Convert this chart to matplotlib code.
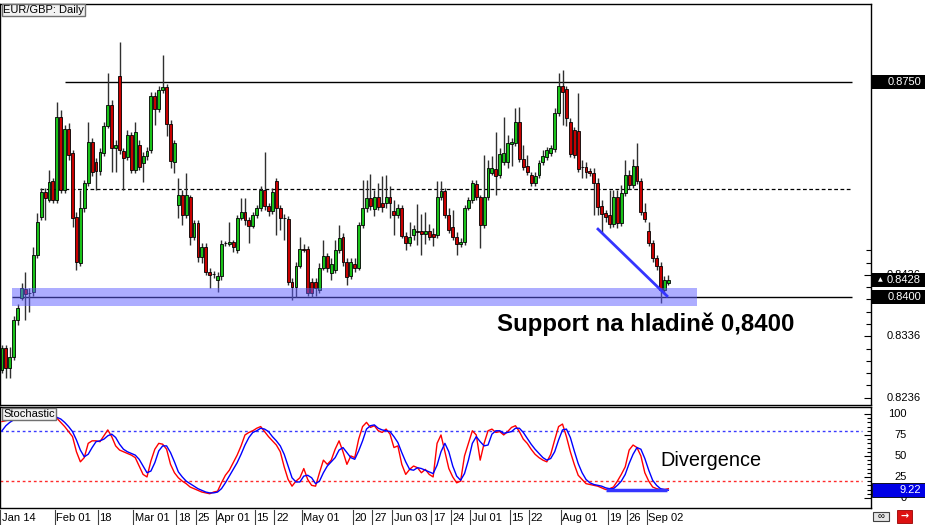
import numpy as np
import matplotlib
matplotlib.use("Agg")
from matplotlib import transforms
from matplotlib.backends.backend_agg import FigureCanvasAgg
from matplotlib.figure import Figure
from matplotlib.patches import Rectangle

matplotlib.rcParams["font.family"] = ["Liberation Sans", "DejaVu Sans"]

# daily EUR/GBP candles (one entry per bar)
opens = [
    .8281, .8317, .8284, .8302, .8363, .8398, .8413, .8406, .8408, .8468,
    .8530, .8571, .8558, .8589, .8558, .8693, .8574, .8673, .8634, .8530,
    .8455, .8545, .8586, .8652, .8620, .8605, .8634, .8678, .8713, .8643,
    .8760, .8638, .8628, .8664, .8607, .8647, .8618, .8630, .8639, .8727,
    .8706, .8737, .8742, .8682, .8620, .8550, .8566, .8533, .8563, .8498,
    .8520, .8465, .8481, .8441, .8437, .8428, .8434, .8488, .8486, .8490,
    .8477, .8529, .8538, .8525, .8516, .8533, .8545, .8574, .8548, .8540,
    .8589, .8545, .8529, .8527, .8424, .8416, .8450, .8478, .8478, .8424,
    .8424, .8411, .8447, .8467, .8439, .8444, .8477, .8498, .8457, .8434,
    .8454, .8447, .8517, .8545, .8561, .8543, .8563, .8553, .8553, .8563,
    .8540, .8533, .8545, .8499, .8488, .8501, .8507, .8507, .8503, .8507,
    .8503, .8501, .8563, .8573, .8533, .8514, .8498, .8486, .8490, .8545,
    .8558, .8584, .8563, .8517, .8563, .8602, .8608, .8599, .8620, .8620,
    .8649, .8651, .8685, .8625, .8613, .8599, .8586, .8599, .8620, .8628,
    .8634, .8641, .8700, .8743, .8739, .8685, .8672, .8670, .8612, .8612,
    .8605, .8602, .8586, .8548, .8537, .8533, .8519, .8563, .8520, .8569,
    .8599, .8582, .8613, .8589, .8538, .8507, .8488, .8463, .8450, .8411,
    .8423,
]
highs = [
    .8322, .8322, .8319, .8369, .8389, .8423, .8441, .8415, .8481, .8537,
    .8577, .8577, .8607, .8594, .8717, .8704, .8680, .8683, .8639, .8538,
    .8574, .8590, .8685, .8659, .8626, .8643, .8685, .8765, .8721, .8656,
    .8815, .8643, .8672, .8669, .8685, .8656, .8636, .8644, .8734, .8734,
    .8743, .8794, .8747, .8688, .8656, .8594, .8574, .8602, .8566, .8525,
    .8525, .8488, .8488, .8447, .8442, .8441, .8493, .8491, .8522, .8493,
    .8533, .8561, .8561, .8530, .8538, .8550, .8581, .8636, .8553, .8577,
    .8594, .8550, .8535, .8532, .8431, .8457, .8498, .8486, .8483, .8431,
    .8431, .8455, .8493, .8472, .8463, .8493, .8517, .8504, .8463, .8463,
    .8463, .8522, .8590, .8590, .8600, .8574, .8586, .8597, .8599, .8581,
    .8558, .8551, .8550, .8506, .8522, .8517, .8551, .8535, .8538, .8519,
    .8512, .8589, .8589, .8577, .8545, .8542, .8506, .8496, .8550, .8563,
    .8590, .8590, .8566, .8631, .8623, .8630, .8669, .8643, .8693, .8664,
    .8659, .8708, .8709, .8647, .8631, .8603, .8603, .8623, .8639, .8644,
    .8647, .8708, .8765, .8770, .8743, .8691, .8677, .8732, .8623, .8620,
    .8610, .8610, .8594, .8558, .8542, .8574, .8574, .8574, .8582, .8623,
    .8607, .8625, .8651, .8594, .8553, .8522, .8493, .8468, .8457, .8434,
    .8436,
]
lows = [
    .8276, .8268, .8268, .8297, .8354, .8395, .8363, .8376, .8402, .8463,
    .8525, .8525, .8555, .8553, .8553, .8569, .8569, .8623, .8514, .8444,
    .8450, .8538, .8581, .8597, .8574, .8599, .8630, .8675, .8603, .8603,
    .8633, .8574, .8623, .8602, .8602, .8607, .8587, .8623, .8634, .8680,
    .8701, .8732, .8662, .8610, .8602, .8529, .8517, .8529, .8485, .8493,
    .8457, .8455, .8436, .8415, .8431, .8408, .8428, .8483, .8483, .8473,
    .8472, .8525, .8517, .8488, .8512, .8529, .8540, .8542, .8532, .8535,
    .8501, .8509, .8493, .8420, .8395, .8400, .8447, .8473, .8402, .8400,
    .8402, .8406, .8444, .8441, .8428, .8439, .8472, .8450, .8420, .8429,
    .8441, .8444, .8512, .8538, .8542, .8532, .8542, .8538, .8545, .8529,
    .8501, .8529, .8496, .8477, .8483, .8493, .8485, .8468, .8486, .8493,
    .8483, .8496, .8558, .8529, .8504, .8493, .8468, .8481, .8485, .8542,
    .8553, .8558, .8480, .8512, .8558, .8599, .8566, .8594, .8615, .8610,
    .8613, .8646, .8620, .8607, .8599, .8581, .8581, .8594, .8615, .8623,
    .8630, .8636, .8695, .8680, .8678, .8628, .8626, .8603, .8594, .8594,
    .8597, .8533, .8533, .8504, .8522, .8512, .8514, .8512, .8516, .8564,
    .8576, .8577, .8584, .8533, .8522, .8483, .8457, .8444, .8390, .8406,
    .8420,
]
closes = [
    .8317, .8284, .8302, .8363, .8382, .8415, .8405, .8406, .8468, .8522,
    .8571, .8561, .8587, .8558, .8693, .8574, .8673, .8631, .8529, .8457,
    .8545, .8586, .8652, .8603, .8605, .8636, .8678, .8713, .8643, .8647,
    .8639, .8626, .8664, .8607, .8669, .8612, .8630, .8638, .8727, .8706,
    .8737, .8742, .8682, .8621, .8651, .8566, .8533, .8566, .8498, .8520,
    .8465, .8481, .8441, .8436, .8437, .8434, .8486, .8488, .8490, .8481,
    .8529, .8538, .8525, .8516, .8533, .8545, .8574, .8548, .8540, .8571,
    .8545, .8529, .8528, .8424, .8416, .8450, .8478, .8477, .8406, .8406,
    .8415, .8447, .8467, .8447, .8454, .8477, .8496, .8457, .8433, .8457,
    .8447, .8517, .8545, .8561, .8548, .8563, .8547, .8547, .8563, .8553,
    .8533, .8545, .8499, .8488, .8498, .8511, .8506, .8503, .8507, .8498,
    .8498, .8563, .8573, .8533, .8509, .8498, .8486, .8490, .8545, .8558,
    .8586, .8563, .8517, .8563, .8610, .8610, .8597, .8633, .8634, .8651,
    .8652, .8685, .8625, .8612, .8603, .8586, .8597, .8618, .8630, .8639,
    .8643, .8700, .8743, .8734, .8691, .8633, .8631, .8608, .8611, .8603,
    .8602, .8586, .8547, .8535, .8530, .8519, .8563, .8520, .8569, .8599,
    .8582, .8613, .8589, .8538, .8527, .8488, .8463, .8450, .8411, .8428,
    .8428,
]

# stochastic oscillator: fast (red) and slow (blue) lines
stoch_fast = [
    91, 92, 93, 95, 97, 97, 96, 95, 95, 96,
    97, 97, 97, 96, 95, 90, 85, 79, 73, 55,
    43, 48, 65, 68, 68, 67, 74, 81, 73, 62,
    57, 55, 53, 51, 48, 38, 28, 25, 44, 58,
    65, 64, 58, 40, 30, 24, 20, 17, 13, 11,
    9, 7, 6, 5, 7, 8, 18, 27, 33, 42,
    51, 62, 75, 78, 80, 83, 85, 79, 73, 68,
    63, 55, 37, 22, 14, 20, 24, 35, 22, 15,
    14, 30, 45, 40, 45, 58, 68, 55, 40, 50,
    48, 70, 85, 90, 84, 86, 80, 78, 82, 76,
    60, 62, 40, 28, 34, 38, 36, 30, 34, 28,
    25, 65, 75, 55, 35, 25, 18, 20, 50, 65,
    80, 75, 45, 65, 80, 82, 78, 79, 75, 79,
    84, 86, 79, 70, 65, 58, 52, 48, 45, 43,
    52, 69, 85, 88, 73, 55, 40, 27, 22, 17,
    16, 15, 14, 12, 10, 11, 13, 20, 28, 37,
    57, 63, 60, 50, 30, 20, 13, 11, 10, 10,
    11,
]
stoch_slow = [
    80, 86, 90, 93, 95, 96, 97, 96, 95, 95,
    96, 97, 97, 97, 96, 94, 90, 85, 79, 69,
    57, 49, 52, 60, 67, 68, 70, 74, 76, 72,
    64, 58, 55, 53, 51, 46, 38, 30, 32, 42,
    56, 62, 62, 54, 43, 31, 25, 20, 17, 14,
    11, 9, 7, 6, 6, 7, 11, 18, 26, 34,
    42, 52, 63, 72, 78, 80, 83, 82, 79, 73,
    68, 62, 52, 38, 24, 19, 19, 26, 27, 24,
    17, 20, 30, 38, 43, 48, 57, 60, 54, 48,
    46, 56, 68, 82, 86, 87, 83, 81, 80, 79,
    73, 66, 54, 43, 34, 33, 36, 35, 33, 31,
    29, 39, 55, 65, 55, 38, 26, 21, 29, 45,
    65, 73, 67, 62, 63, 76, 80, 80, 77, 78,
    79, 83, 83, 78, 71, 64, 58, 53, 48, 45,
    47, 55, 69, 81, 82, 72, 56, 41, 30, 22,
    18, 16, 15, 14, 12, 11, 11, 15, 20, 28,
    41, 52, 60, 58, 47, 33, 21, 15, 11, 10,
    9.22,
]

# date labels on the time axis and the bar they belong to
date_labels = ["Jan 14", "Feb 01", "18", "Mar 01", "18", "25", "Apr 01", "15", "22",
               "May 01", "20", "27", "Jun 03", "17", "24", "Jul 01", "15", "22",
               "Aug 01", "19", "26", "Sep 02"]
date_bars = [0, 14, 25, 34, 45, 50, 55, 65, 70, 77, 90, 95, 100, 110, 115, 120,
             130, 135, 143, 155, 160, 165]

# drawn levels and annotations
resistance = 0.8750
middle_level = 0.8576
support = 0.8400
support_zone = (0.8385, 0.8415)
last_price = 0.8428
scale_labels = [0.8436, 0.8336, 0.8236]
divergence_bars = [151.8, 169.9]
divergence_prices = [0.8512, 0.8400]
stoch_divergence_bars = [154.1, 169.6]
stoch_divergence_values = [9.5, 9.5]

assert len(opens) == len(highs) == len(lows) == len(closes) == len(stoch_fast) == len(stoch_slow)

GREEN = "#19c219"
RED = "#c80000"
W, H = 925.0, 525.0
RIGHT = 871.0


def px_box(x0, y0, x1, y1):
    return [x0 / W, 1 - y1 / H, (x1 - x0) / W, (y1 - y0) / H]


figure = Figure(figsize=(9.25, 5.25), dpi=100)
FigureCanvasAgg(figure)
figure.patch.set_facecolor("white")

main = figure.add_axes(px_box(0, 4, RIGHT, 405))
stoch = figure.add_axes(px_box(0, 407, RIGHT, 508))

x_left, x_right = -0.5, 221.7
for axis in (main, stoch):
    axis.set_xlim(x_left, x_right)
    axis.tick_params(axis="x", bottom=False, labelbottom=False)
    for spine in axis.spines.values():
        spine.set_color("black")
        spine.set_linewidth(1.0)

main.set_ylim(0.8224, 0.8877)
stoch.set_ylim(-12, 108.3)

# candles
bars = np.arange(len(closes))
o = np.array(opens)
h = np.array(highs)
l = np.array(lows)
c = np.array(closes)
rising = c >= o
body_low = np.minimum(o, c)
body_height = np.maximum(np.abs(c - o), 0.00003)
main.vlines(bars, l, h, color="#303030", linewidth=1.0, zorder=2)
main.bar(bars, body_height, bottom=body_low, width=0.74,
         color=np.where(rising, GREEN, RED), edgecolor="black", linewidth=0.6, zorder=3)

# levels
main.hlines(resistance, 16.0, 216.8, color="black", linewidth=1.0, zorder=1)
main.hlines(middle_level, 9.7, 216.8, color="black", linewidth=0.9,
            linestyles=(0, (3, 2)), zorder=1)
main.hlines(support, 2.6, 216.8, color="black", linewidth=1.0, zorder=1)
main.add_patch(Rectangle((2.6, support_zone[0]), 177.3 - 2.6, support_zone[1] - support_zone[0],
                         facecolor="#5c5cff", alpha=0.5, edgecolor="none", zorder=4))
main.plot(divergence_bars, divergence_prices, color="#3535ff", linewidth=2.0,
          solid_capstyle="butt", zorder=5)
main.text(126.3, 0.8356, "Support na hladině 0,8400", fontsize=17.3, fontweight="bold",
          ha="left", va="center", color="black")

# price scale on the right
main.yaxis.tick_right()
main.set_yticks(scale_labels)
main.set_yticks([0.8236 + 0.002 * k for k in range(13)], minor=True)
main.tick_params(axis="y", which="both", direction="in", labelright=False, left=False,
                 right=True, color="black", width=0.8)
main.tick_params(axis="y", which="major", length=5)
main.tick_params(axis="y", which="minor", length=3.5)

price_side = transforms.blended_transform_factory(main.transAxes, main.transData)
label_x = 921 / RIGHT
box_x0 = 872 / RIGHT
box_w = (W - 872) / RIGHT
box_half = 0.00112
for value in scale_labels:
    main.text(label_x, value, f"{value:.4f}", transform=price_side, ha="right", va="center",
              fontsize=8, color="black", clip_on=False, zorder=5)
for value in (resistance, last_price, support):
    main.add_patch(Rectangle((box_x0, value - box_half), box_w, 2 * box_half,
                             transform=price_side, facecolor="black", edgecolor="none",
                             clip_on=False, zorder=6))
    main.text(label_x, value, f"{value:.4f}", transform=price_side, ha="right", va="center",
              fontsize=8, color="white", clip_on=False, zorder=7)
main.text(880 / RIGHT, last_price, "▲", transform=price_side, ha="center", va="center",
          fontsize=4.5, color="white", clip_on=False, zorder=7, family="DejaVu Sans")

# stochastic panel
stoch.hlines(80, x_left, 219.4, color="#3a3aff", linewidth=1.0, linestyles=(0, (2, 2)))
stoch.hlines(20, x_left, 219.4, color="#ff2a2a", linewidth=1.0, linestyles=(0, (2, 2)))
stoch.plot(bars, stoch_fast, color="#ff0000", linewidth=1.0, zorder=3)
stoch.plot(bars, stoch_slow, color="#0000ff", linewidth=1.0, zorder=4)
stoch.plot(stoch_divergence_bars, stoch_divergence_values, color="#3535ff", linewidth=2.5,
           solid_capstyle="butt", zorder=5)
stoch.text(167.9, 44, "Divergence", fontsize=14.3, ha="left", va="center", color="black")

stoch.yaxis.tick_right()
stoch.set_yticks([0, 25, 50, 75, 100])
stoch.set_yticks(list(range(0, 101, 5)), minor=True)
stoch.tick_params(axis="y", which="both", direction="in", labelright=False, left=False,
                  right=True, color="black", width=0.8)
stoch.tick_params(axis="y", which="major", length=5)
stoch.tick_params(axis="y", which="minor", length=3)

stoch_side = transforms.blended_transform_factory(stoch.transAxes, stoch.transData)
for value in (100, 75, 50, 25, 0):
    stoch.text(907 / RIGHT, value, str(value), transform=stoch_side, ha="right", va="center",
               fontsize=8, color="black", clip_on=False)
stoch.add_patch(Rectangle((box_x0, stoch_slow[-1] - 8.3), box_w, 16.6, transform=stoch_side,
                          facecolor="#0000e6", edgecolor="black", linewidth=0.6,
                          clip_on=False, zorder=6))
stoch.text(label_x, stoch_slow[-1], f"{stoch_slow[-1]:.2f}", transform=stoch_side,
           ha="right", va="center", fontsize=8, color="white", clip_on=False, zorder=7)

# time axis labels with separators
time_side = transforms.blended_transform_factory(stoch.transData, figure.transFigure)
for label, bar in zip(date_labels, date_bars):
    stoch.plot([bar - 0.5, bar - 0.5], [1 - 510 / H, 0.0], transform=time_side,
               color="#404040", linewidth=0.8, clip_on=False)
    stoch.text(bar - 0.1, 1 - 518 / H, label, transform=time_side, ha="left", va="center",
               fontsize=8, color="black", clip_on=False)

# panel captions
for text, y_px in (("EUR/GBP: Daily", 10), ("Stochastic", 414)):
    figure.text(3 / W, 1 - y_px / H, text, ha="left", va="center", fontsize=8,
                bbox=dict(boxstyle="square,pad=0.12", facecolor="#f2f2f2",
                          edgecolor="#707070", linewidth=1.0))

# small toolbar icons at the bottom right
figure.add_artist(Rectangle((873 / W, 1 - 521 / H), 16 / W, 9 / H, transform=figure.transFigure,
                            facecolor="#e4e4e4", edgecolor="#404040", linewidth=0.8))
figure.text(881 / W, 1 - 516.5 / H, "∞", ha="center", va="center", fontsize=7)
figure.add_artist(Rectangle((897 / W, 1 - 523 / H), 15 / W, 13 / H, transform=figure.transFigure,
                            facecolor="#dd1111", edgecolor="#990000", linewidth=0.6))
figure.text(904.5 / W, 1 - 516.5 / H, "→", ha="center", va="center", fontsize=7,
            color="white", fontweight="bold", family="DejaVu Sans")

figure.savefig("out.png", dpi=100, facecolor="white")
